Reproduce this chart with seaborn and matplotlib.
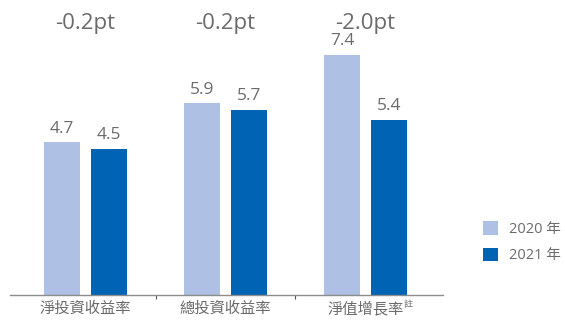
import matplotlib
matplotlib.use("Agg")
import matplotlib.pyplot as plt
import seaborn as sns
import pandas as pd

categories = ["淨投資收益率", "總投資收益率", "淨值增長率"]
years = ["2020 年", "2021 年"]
values_2020 = [4.7, 5.9, 7.4]
values_2021 = [4.5, 5.7, 5.4]
deltas = ["-0.2pt", "-0.2pt", "-2.0pt"]
footnote_mark = "註"

colors = ["#AEC0E3", "#0063B3"]
text_color = "#6B6B6B"

sns.set_theme(style="white")
plt.rcParams["font.family"] = ["Open Sans", "Noto Sans CJK TC", "DejaVu Sans"]

df = pd.DataFrame({
    "cat": categories * 2,
    "year": [years[0]] * 3 + [years[1]] * 3,
    "val": values_2020 + values_2021,
})

W, H = 565, 326
fig = plt.figure(figsize=(W / 100, H / 100), dpi=100)
ax = fig.add_axes([10 / W, 31 / H, 433 / W, 295 / H])

sns.barplot(data=df, x="cat", y="val", hue="year", palette=colors,
            width=0.67, gap=0.235, ax=ax, saturation=1, errorbar=None,
            linewidth=0, edgecolor="none")

ax.set_xlim(-0.54, 2.554)
ax.set_ylim(0, 295 / 32.5)

for cont in ax.containers:
    ax.bar_label(cont, fmt="%.1f", padding=4, fontsize=12.5, color=text_color)

for i, d in enumerate(deltas):
    ax.text(i, 8.18, d, ha="center", va="baseline", fontsize=16, color=text_color)

for s in ["top", "right", "left"]:
    ax.spines[s].set_visible(False)
ax.spines["bottom"].set_color("#8C8C8C")
ax.spines["bottom"].set_linewidth(1.0)
ax.set_yticks([])
ax.set_xlabel("")
ax.set_ylabel("")
ax.set_xticks([0, 1, 2])
ax.set_xticklabels(categories)
ax.set_xticks([0.5, 1.5], minor=True)
ax.tick_params(axis="x", which="major", length=0, pad=5, labelsize=11, labelcolor=text_color)
ax.tick_params(axis="x", which="minor", bottom=True, length=3, width=0.8, color="#555555", direction="out")

sns.move_legend(ax, "upper left", bbox_to_anchor=(483 / W, 1 - 221 / H),
                bbox_transform=fig.transFigure, title=None, frameon=False,
                fontsize=10.5, handlelength=1.05, handleheight=1.05,
                labelspacing=0.75, handletextpad=0.7, borderpad=0,
                borderaxespad=0)
for t in ax.get_legend().get_texts():
    t.set_color(text_color)

fig.canvas.draw()
lab = ax.get_xticklabels()[2]
lab.set_x(2 - 6 / 140)
fig.canvas.draw()
bb = lab.get_window_extent()
fig.text((bb.x1 + 0.5) / W, (bb.y1 + 2) / H, footnote_mark, ha="left", va="top",
         fontsize=6.5, color=text_color)

fig.savefig("out.png", dpi=100)
